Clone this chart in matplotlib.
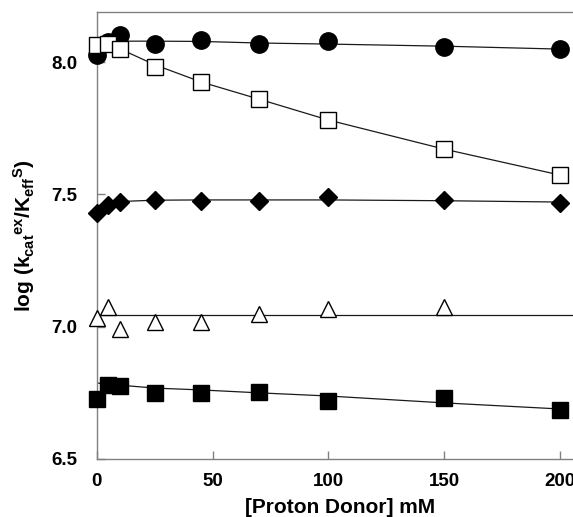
# -*- coding: utf-8 -*-
import matplotlib
matplotlib.use('Agg')
import matplotlib.pyplot as plt

plt.rcParams['font.family'] = ['Liberation Sans', 'DejaVu Sans']
plt.rcParams['font.weight'] = 'bold'
plt.rcParams['mathtext.fontset'] = 'custom'
plt.rcParams['mathtext.rm'] = 'Liberation Sans:bold'
plt.rcParams['mathtext.it'] = 'Liberation Sans:bold'
plt.rcParams['mathtext.bf'] = 'Liberation Sans:bold'
plt.rcParams['mathtext.default'] = 'rm'

# 数据 (mM)
donor = [0, 5, 10, 25, 45, 70, 100, 150, 200]
donor_tri = [0, 5, 10, 25, 45, 70, 100, 150]

circle_y = [8.026, 8.076, 8.102, 8.068, 8.083, 8.068, 8.079, 8.057, 8.049]
circle_fit = [8.079, 8.079, 8.079, 8.079, 8.078, 8.072, 8.068, 8.060, 8.049]

open_sq_y = [8.064, 8.068, 8.049, 7.981, 7.924, 7.860, 7.781, 7.671, 7.573]
open_sq_fit = [8.070, 8.062, 8.050, 7.990, 7.925, 7.860, 7.781, 7.671, 7.573]

diamond_y = [7.430, 7.460, 7.471, 7.479, 7.475, 7.475, 7.490, 7.479, 7.468]
diamond_fit = [7.432, 7.462, 7.473, 7.478, 7.479, 7.479, 7.479, 7.476, 7.471]

tri_y = [7.033, 7.074, 6.991, 7.018, 7.018, 7.048, 7.066, 7.074]
tri_level = 7.044

fill_sq_y = [6.727, 6.780, 6.776, 6.750, 6.750, 6.753, 6.719, 6.731, 6.685]
fill_sq_fit = [6.787, 6.784, 6.779, 6.768, 6.761, 6.750, 6.738, 6.712, 6.689]

xticks = [0, 50, 100, 150, 200]
yticks = [6.5, 7.0, 7.5, 8.0]

fig = plt.figure(figsize=(5.73, 5.17), dpi=100)
ax = fig.add_axes([0.1688, 0.1122, 0.849, 0.865])

lc = '#1a1a1a'
# 拟合线
ax.plot(donor, circle_fit, color=lc, lw=0.9, zorder=2)
ax.plot(donor, open_sq_fit, color=lc, lw=0.9, zorder=2)
ax.plot(donor, diamond_fit, color=lc, lw=0.9, zorder=2)
ax.axhline(tri_level, color=lc, lw=0.9, zorder=2)
ax.plot(donor, fill_sq_fit, color=lc, lw=0.9, zorder=2)

# 数据点
ax.plot(donor, circle_y, 'o', ms=12.5, mfc='black', mec='black', clip_on=False, zorder=3)
ax.plot(donor, open_sq_y, 's', ms=12, mfc='white', mec='black', mew=1.0, clip_on=False, zorder=4)
ax.plot(donor, diamond_y, 'D', ms=8.7, mfc='black', mec='black', clip_on=False, zorder=3)
ax.plot(donor_tri, tri_y, '^', ms=12, mfc='white', mec='black', mew=1.0, clip_on=False, zorder=3)
ax.plot(donor, fill_sq_y, 's', ms=12, mfc='black', mec='black', clip_on=False, zorder=3)

ax.set_xlim(0, 210)
ax.set_ylim(6.5, 8.19)
ax.set_xticks(xticks)
ax.set_yticks(yticks)
ax.set_yticklabels(['%.1f' % v for v in yticks])

for s in ax.spines.values():
    s.set_color('#808080')
    s.set_linewidth(1.0)
ax.spines['right'].set_visible(False)
ax.tick_params(direction='in', length=6, width=1, color='#808080', labelsize=13.5)
ax.tick_params(axis='y', pad=14)
ax.tick_params(axis='x', pad=10)

ax.set_xlabel('[Proton Donor] mM', fontsize=15, fontweight='bold', labelpad=6)
ax.set_ylabel(r'log (k$_{cat}{}^{ex}$/K$_{eff}{}^{S}$)', fontsize=15, fontweight='bold', labelpad=10)

plt.savefig('out.png', dpi=100)
